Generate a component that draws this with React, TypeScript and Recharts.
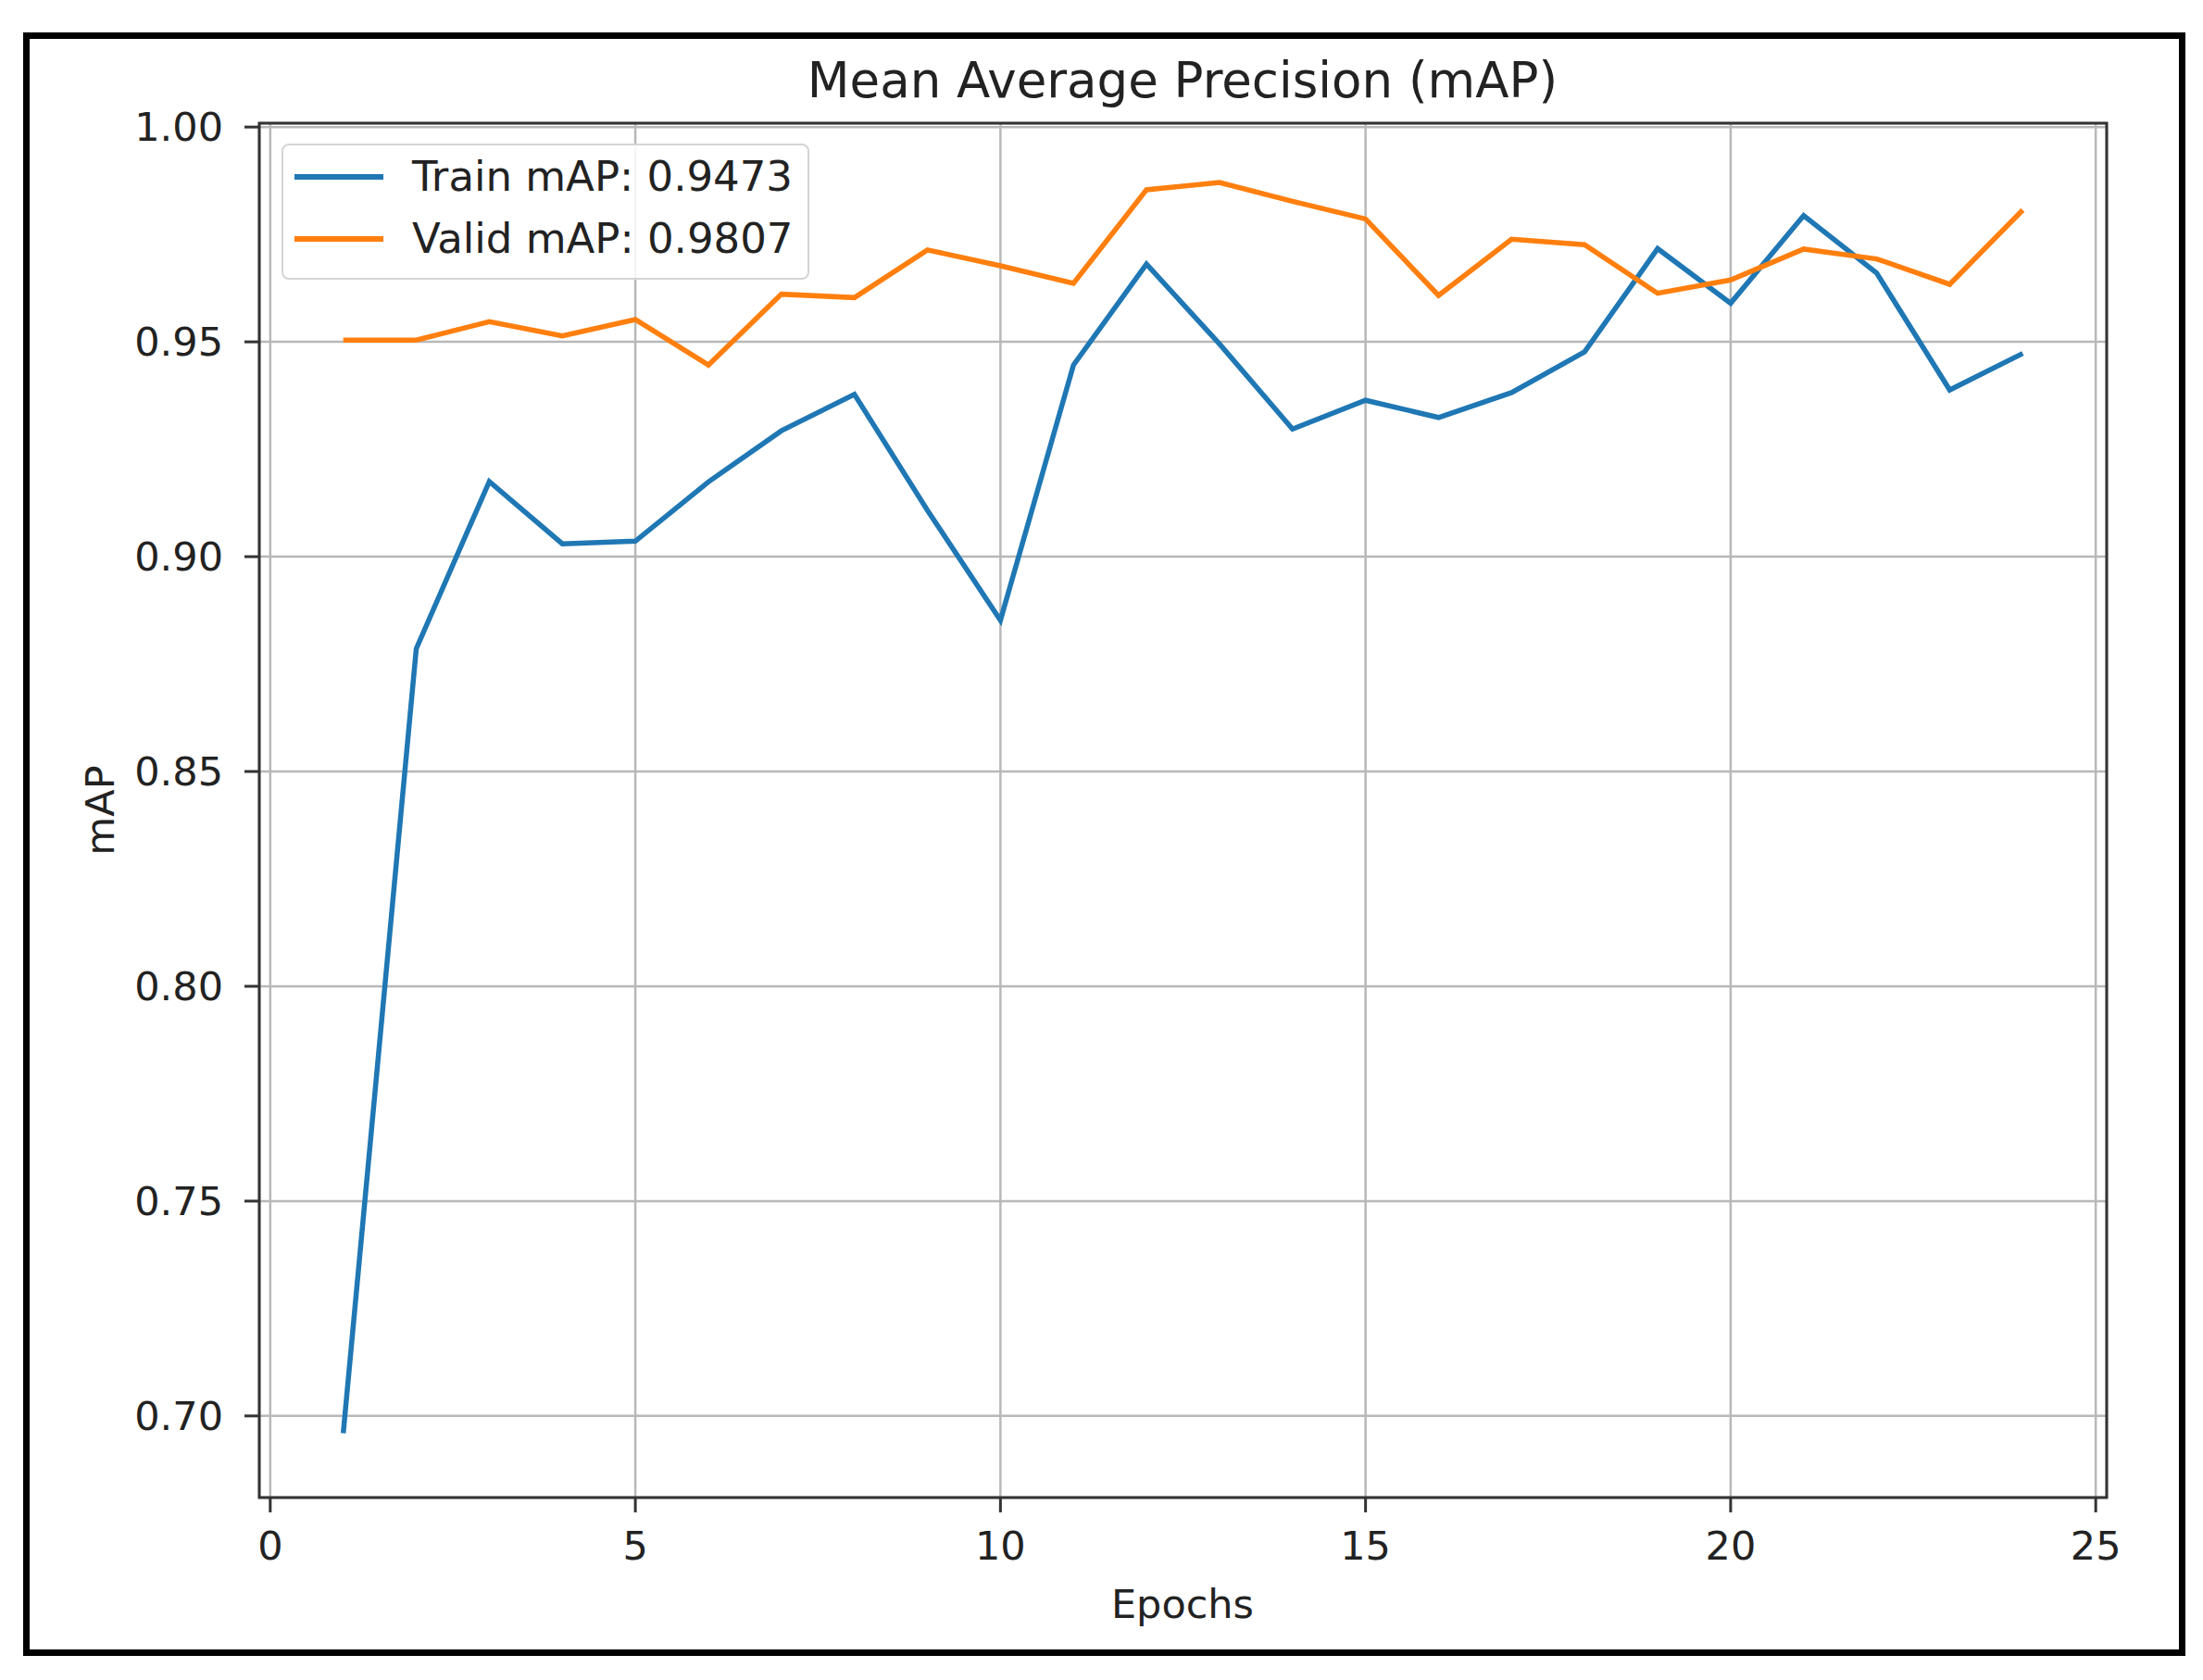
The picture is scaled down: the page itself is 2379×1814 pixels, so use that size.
import {
  LineChart,
  Line,
  XAxis,
  YAxis,
  CartesianGrid,
  Legend,
  ReferenceArea,
} from "recharts";

// values
const epochs = [1, 2, 3, 4, 5, 6, 7, 8, 9, 10, 11, 12, 13, 14, 15, 16, 17, 18, 19, 20, 21, 22, 23, 24];
const trainMap = [
  0.696, 0.8786, 0.9175, 0.903, 0.9036, 0.9174, 0.9293, 0.9378, 0.9108, 0.8852, 0.9446, 0.9681,
  0.9495, 0.9297, 0.9364, 0.9324, 0.9382, 0.9477, 0.9717, 0.959, 0.9794, 0.966, 0.9388, 0.9473,
];
const validMap = [
  0.9504, 0.9504, 0.9547, 0.9514, 0.9552, 0.9446, 0.9611, 0.9603, 0.9714, 0.9677, 0.9636, 0.9854,
  0.9871, 0.9827, 0.9786, 0.9608, 0.9739, 0.9726, 0.9613, 0.9644, 0.9716, 0.9693, 0.9634, 0.9807,
];
const xTicks = [0, 5, 10, 15, 20, 25];
const yTicks = [0.7, 0.75, 0.8, 0.85, 0.9, 0.95, 1.0];

const series = [
  { key: "train", name: "Train mAP: 0.9473", color: "#1f77b4" },
  { key: "valid", name: "Valid mAP: 0.9807", color: "#ff7f0e" },
];

const data = epochs.map((epoch, i) => ({ epoch, train: trainMap[i], valid: validMap[i] }));

const X_DOMAIN: [number, number] = [-0.15, 25.15];
const Y_DOMAIN: [number, number] = [0.681, 1.0009];

const FONT = "'DejaVu Sans', sans-serif";
const TEXT = "#222";

function MplLegend() {
  return (
    <div
      style={{
        width: 570,
        height: 147,
        boxSizing: "border-box",
        border: "2px solid #d4d4d4",
        borderRadius: 8,
        background: "rgba(255,255,255,0.85)",
        fontFamily: FONT,
        fontSize: 45,
        color: TEXT,
      }}
    >
      {series.map((s) => (
        <div key={s.key} style={{ height: 67, display: "flex", alignItems: "center" }}>
          <div style={{ marginLeft: 12, width: 96, height: 6, background: s.color }} />
          <span style={{ marginLeft: 31, whiteSpace: "nowrap" }}>{s.name}</span>
        </div>
      ))}
    </div>
  );
}

export default function App() {
  return (
    <div style={{ position: "absolute", left: 0, top: 0, width: 2379, height: 1814, background: "#fff" }}>
      <div
        style={{
          position: "absolute",
          left: 25,
          top: 35,
          width: 2335,
          height: 1753,
          border: "7px solid #000",
          boxSizing: "border-box",
        }}
      />
      <LineChart
        width={2379}
        height={1814}
        data={data}
        margin={{ top: 133, right: 104, bottom: 137, left: 180 }}
        style={{ position: "absolute", left: 0, top: 0 }}
      >
        <CartesianGrid stroke="#b8b8b8" strokeWidth={2.5} />
        <XAxis
          dataKey="epoch"
          type="number"
          domain={X_DOMAIN}
          ticks={xTicks}
          allowDataOverflow
          height={60}
          axisLine={false}
          tickLine={{ stroke: "#333", strokeWidth: 3 }}
          tickSize={16}
          tickMargin={20}
          tick={{ fontSize: 43, fill: TEXT, fontFamily: FONT }}
        />
        <YAxis
          type="number"
          domain={Y_DOMAIN}
          ticks={yTicks}
          allowDataOverflow
          width={100}
          axisLine={false}
          tickLine={{ stroke: "#333", strokeWidth: 3 }}
          tickSize={16}
          tickMargin={23}
          tickFormatter={(v: number) => v.toFixed(2)}
          tick={{ fontSize: 43, fill: TEXT, fontFamily: FONT }}
        />
        {series.map((s) => (
          <Line
            key={s.key}
            type="linear"
            dataKey={s.key}
            name={s.name}
            stroke={s.color}
            strokeWidth={5.5}
            dot={false}
            activeDot={false}
            isAnimationActive={false}
          />
        ))}
        <ReferenceArea
          x1={X_DOMAIN[0]}
          x2={X_DOMAIN[1]}
          y1={Y_DOMAIN[0]}
          y2={Y_DOMAIN[1]}
          ifOverflow="visible"
          fill="none"
          stroke="#333"
          strokeWidth={3}
        />
        <Legend
          layout="horizontal"
          verticalAlign="middle"
          align="center"
          content={() => <MplLegend />}
          wrapperStyle={{ left: 304, top: 155, width: 570, height: 147 }}
        />
      </LineChart>
      <svg
        width={2379}
        height={1814}
        style={{ position: "absolute", left: 0, top: 0, pointerEvents: "none" }}
      >
        <text x={1277} y={105} textAnchor="middle" fontFamily={FONT} fontSize={53} fill={TEXT}>
          Mean Average Precision (mAP)
        </text>
        <text x={1277} y={1747} textAnchor="middle" fontFamily={FONT} fontSize={43} fill={TEXT}>
          Epochs
        </text>
        <text
          x={123}
          y={875}
          textAnchor="middle"
          fontFamily={FONT}
          fontSize={43}
          fill={TEXT}
          transform="rotate(-90 123 875)"
        >
          mAP
        </text>
      </svg>
    </div>
  );
}
